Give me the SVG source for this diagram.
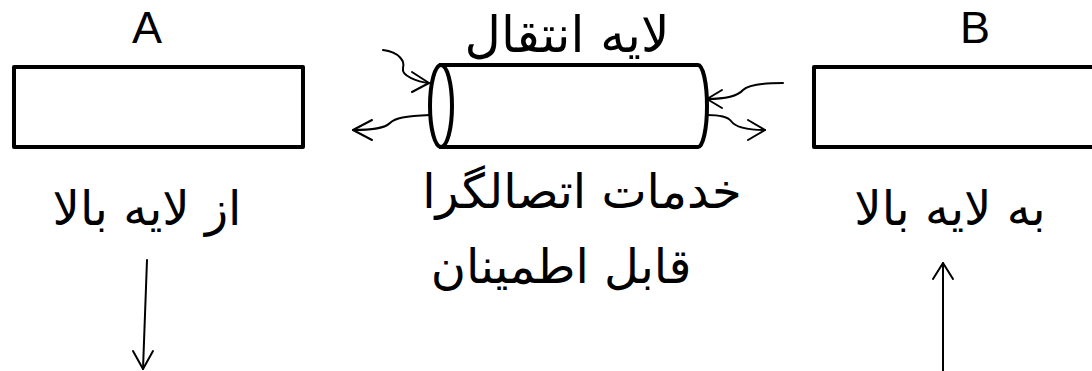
<svg xmlns="http://www.w3.org/2000/svg" width="1092" height="371" viewBox="0 0 1092 371">
<style>
.box{fill:#fff;stroke:#000;stroke-width:4;stroke-linejoin:round}
.lbl{font-family:"Liberation Sans","DejaVu Sans",sans-serif;font-size:45px;fill:#000;text-anchor:middle}
.fa{font-family:"DejaVu Sans","Noto Sans",sans-serif;font-size:48px;fill:#000;text-anchor:middle;direction:rtl}
.ln{fill:none;stroke:#000;stroke-width:2;stroke-linecap:round;stroke-linejoin:round}
.cyl{fill:#fff;stroke:#000;stroke-width:4}
</style>
<rect width="1092" height="371" fill="#fff"/>
<g id="nodeA">
<rect class="box" x="14" y="67" width="289" height="80"/>
<text class="lbl" x="147" y="43">A</text>
</g>
<g id="nodeB">
<rect class="box" x="814" y="67" width="300" height="80"/>
<text class="lbl" x="975" y="43">B</text>
</g>
<g id="transport">
<path class="cyl" d="M441,65 L698,65 A9,41 0 0 1 698,147 L441,147 Z"/>
<ellipse class="cyl" cx="441" cy="106" rx="11" ry="41"/>
<text class="fa" x="567" y="52" style="font-size:50px">لایه انتقال</text>
<text class="fa" x="582" y="208">خدمات اتصالگرا</text>
<text class="fa" x="561" y="283">قابل اطمینان</text>
</g>
<g id="labelA">
<text class="fa" x="147" y="225">از لایه بالا</text>
</g>
<g id="labelB">
<text class="fa" x="950" y="225">به لایه بالا</text>
</g>
<g id="connectors">
<path class="ln" d="M383,50 C400,52 405,62 403,68 C401,76 418,82 429,83"/>
<path class="ln" d="M412,72 L429,83 L412,92"/>
<path class="ln" d="M430,115 C405,116 395,118 390,123 C384,129 370,130 353,130"/>
<path class="ln" d="M372,120 L353,130 L372,140"/>
<path class="ln" d="M783,83 C760,83 748,85 743,90 C737,97 720,99 707,99"/>
<path class="ln" d="M722,90 L707,99 L722,108"/>
<path class="ln" d="M707,115 C720,115 728,117 731,121 C736,128 748,130 765,130"/>
<path class="ln" d="M748,120 L765,130 L748,140"/>
<path class="ln" d="M147,260 L143,369"/>
<path class="ln" d="M133,351 L143,369 L153,351"/>
<path class="ln" d="M943,263 L943,371"/>
<path class="ln" d="M933,279 L943,263 L953,279"/>
</g>
</svg>
